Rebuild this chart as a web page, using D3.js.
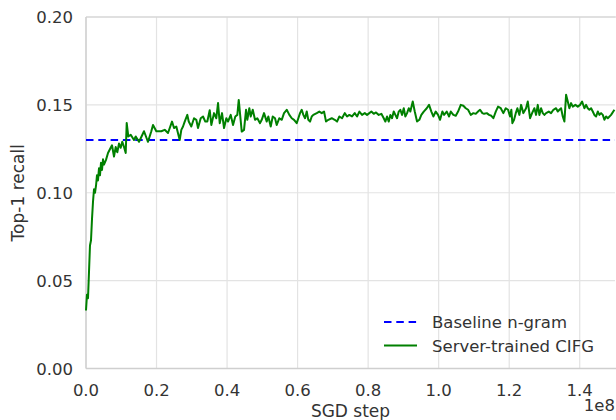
<!DOCTYPE html>
<html><head><meta charset="utf-8">
<script src="https://cdn.jsdelivr.net/npm/d3@7"></script>
<style>
body{margin:0;background:#fff}
svg{display:block}
text{font-family:"DejaVu Sans",sans-serif;fill:#333}
</style>
</head><body>
<svg id="chart" width="616" height="420"></svg>
<script>
// SGD step (in millions)
const stepsM = [0,0.28,0.57,0.85,1.13,1.42,1.70,1.99,2.27,2.55,2.84,3.12,3.40,3.69,3.97,4.25,4.54,4.82,5.10,5.67,6.24,7.00,7.37,7.94,8.42,8.88,9.36,9.84,10.29,10.78,11.26,11.54,12.00,12.68,13.61,14.10,15.03,15.52,16.45,17.38,17.58,18.52,19.00,19.94,21.35,22.32,23.25,24.39,24.96,25.61,26.57,27.03,27.51,27.99,28.73,29.13,29.86,30.63,31.28,31.76,32.53,33.18,33.83,34.40,35.08,35.54,36.30,36.95,37.44,37.92,38.57,39.14,39.79,40.27,41.04,41.69,42.34,42.91,43.31,44.16,44.81,45.38,45.75,46.31,46.71,47.28,47.93,48.58,49.35,49.83,50.48,51.25,51.70,52.38,52.95,53.60,54.08,54.82,55.50,56.15,56.92,57.66,58.34,58.99,59.75,60.21,60.69,61.17,61.63,62.11,62.59,63.04,63.53,64.01,64.46,65.43,66.16,66.85,67.50,68.06,68.72,69.68,70.53,71.18,71.84,72.60,73.37,74.02,74.67,75.44,76.20,76.86,77.51,78.27,79.04,79.69,80.34,80.91,81.59,82.24,83.01,83.75,84.43,84.88,85.36,85.85,86.30,86.78,87.26,87.72,88.20,88.68,89.13,89.62,90.10,90.55,91.04,91.52,91.97,92.65,93.22,93.87,94.52,95.09,95.77,96.62,97.27,97.93,98.49,99.17,99.83,100.39,101.05,101.53,102.29,102.95,103.43,104.17,104.85,105.50,106.27,107.00,107.68,108.34,109.10,109.84,110.52,111.17,111.74,112.39,112.87,113.64,114.29,114.94,115.51,116.19,116.84,117.61,118.34,119.02,119.68,120.24,120.61,120.90,121.38,121.86,122.32,122.89,123.37,124.02,124.78,125.27,125.92,126.49,127.14,127.62,128.10,128.56,129.04,129.52,129.98,130.46,131.22,131.87,132.53,133.29,133.77,134.23,134.71,135.19,135.65,136.13,136.61,137.06,137.55,138.03,138.77,139.45,140.10,140.67,141.32,141.80,142.28,142.74,143.22,143.70,144.15,144.64,145.12,145.58,146.05,146.54,146.99,147.47,147.96,148.89,149.83];
// Top-1 recall of the server-trained CIFG
const recall = [0.033,0.042,0.040,0.055,0.070,0.073,0.085,0.095,0.102,0.100,0.104,0.110,0.107,0.114,0.110,0.117,0.113,0.119,0.116,0.1187,0.1226,0.1256,0.127,0.1206,0.126,0.123,0.128,0.1256,0.129,0.126,0.1226,0.1397,0.132,0.133,0.130,0.132,0.129,0.131,0.135,0.130,0.129,0.135,0.1386,0.135,0.135,0.1358,0.134,0.1405,0.1368,0.1377,0.130,0.1358,0.1377,0.1405,0.1443,0.1405,0.1377,0.1424,0.1415,0.1368,0.1424,0.1434,0.1405,0.1405,0.147,0.1386,0.1453,0.1424,0.151,0.1396,0.1453,0.1368,0.1424,0.1405,0.1443,0.1386,0.1434,0.1443,0.1528,0.1348,0.1358,0.1472,0.1415,0.1481,0.1434,0.1472,0.1415,0.1424,0.1396,0.1415,0.1453,0.1405,0.1434,0.1377,0.1434,0.1424,0.1386,0.1424,0.1415,0.1453,0.1472,0.1443,0.1424,0.1415,0.1396,0.1424,0.1453,0.1472,0.1443,0.1424,0.1462,0.1415,0.1405,0.1434,0.1443,0.1453,0.1462,0.1453,0.1462,0.1405,0.1415,0.1424,0.1415,0.1405,0.1434,0.1424,0.1453,0.1434,0.1443,0.1434,0.1453,0.1434,0.1462,0.1443,0.1453,0.1443,0.1453,0.1462,0.1449,0.1457,0.1443,0.1449,0.1424,0.1405,0.1434,0.1405,0.1443,0.1424,0.1462,0.1443,0.1424,0.1462,0.1472,0.1443,0.1481,0.1434,0.1453,0.1481,0.1462,0.1519,0.1462,0.1405,0.1415,0.1443,0.1462,0.1481,0.1500,0.1462,0.1434,0.1462,0.1443,0.1415,0.1462,0.1443,0.1462,0.1434,0.1462,0.1443,0.1438,0.1462,0.1500,0.1495,0.1481,0.1472,0.1443,0.1453,0.1449,0.1462,0.1472,0.1453,0.1449,0.1453,0.1443,0.1438,0.1424,0.1462,0.1490,0.1481,0.1453,0.1481,0.1472,0.1434,0.1472,0.1396,0.1415,0.1453,0.1481,0.1443,0.1500,0.1453,0.1481,0.1519,0.1424,0.1453,0.1481,0.1443,0.1500,0.1443,0.1481,0.1453,0.1443,0.1453,0.1462,0.1453,0.1472,0.1481,0.1462,0.1472,0.1481,0.1434,0.1405,0.1557,0.1519,0.1481,0.1510,0.1490,0.1500,0.1490,0.1500,0.1519,0.1481,0.1500,0.1481,0.1472,0.1481,0.1462,0.1443,0.1434,0.1462,0.1443,0.1453,0.1443,0.1415,0.1434,0.1424,0.1443,0.1472];
const baselineRecall = 0.13;
const xTicks = [0, 0.2, 0.4, 0.6, 0.8, 1.0, 1.2, 1.4]; // x 1e8
const xTickLabels = ["0.0","0.2","0.4","0.6","0.8","1.0","1.2","1.4"];
const yTicks = [0, 0.05, 0.10, 0.15, 0.20];
const yTickLabels = ["0.00","0.05","0.10","0.15","0.20"];
const seriesNames = ["Baseline n-gram", "Server-trained CIFG"];
const seriesColors = ["#0000ff", "#008000"];

const svg = d3.select("#chart");
const W = 616, H = 420;
const m = {left: 86, top: 17, right: 1, bottom: 51};
const x = d3.scaleLinear().domain([0, 1.5e8]).range([m.left, W - m.right]);
const y = d3.scaleLinear().domain([0, 0.2]).range([H - m.bottom - 0.5, m.top]);

// grid
const grid = svg.append("g");
grid.selectAll("line.v").data(xTicks).join("line")
  .attr("x1", d => x(d * 1e8)).attr("x2", d => x(d * 1e8))
  .attr("y1", y(0)).attr("y2", y(0.2))
  .attr("stroke", "#e3e3e3").attr("stroke-width", 1.2);
grid.selectAll("line.h").data(yTicks).join("line")
  .attr("x1", x(0)).attr("x2", x(1.5e8))
  .attr("y1", d => y(d)).attr("y2", d => y(d))
  .attr("stroke", "#e3e3e3").attr("stroke-width", 1.2);

// spines
svg.append("line").attr("x1", x(0)).attr("x2", x(0)).attr("y1", y(0)).attr("y2", y(0.2))
  .attr("stroke", "#cfcfcf").attr("stroke-width", 1.4);
svg.append("line").attr("x1", x(0)).attr("x2", W).attr("y1", y(0)).attr("y2", y(0))
  .attr("stroke", "#cfcfcf").attr("stroke-width", 1.4);
svg.append("line").attr("x1", x(0)).attr("x2", W).attr("y1", y(0.2)).attr("y2", y(0.2))
  .attr("stroke", "#cfcfcf").attr("stroke-width", 1.2);

// tick labels
svg.append("g").selectAll("text").data(yTicks).join("text")
  .attr("x", 73).attr("y", d => y(d) + 6)
  .attr("text-anchor", "end").attr("font-size", 16.5)
  .text((d, i) => yTickLabels[i]);
svg.append("g").selectAll("text").data(xTicks).join("text")
  .attr("x", d => x(d * 1e8)).attr("y", 396)
  .attr("text-anchor", "middle").attr("font-size", 16.5)
  .text((d, i) => xTickLabels[i]);
svg.append("text").attr("x", 615).attr("y", 411).attr("text-anchor", "end")
  .attr("font-size", 16.5).text("1e8");

// axis labels
svg.append("text").attr("x", (x(0) + x(1.5e8)) / 2).attr("y", 416.5)
  .attr("text-anchor", "middle").attr("font-size", 17).text("SGD step");
svg.append("text").attr("transform", `translate(24,${(y(0) + y(0.2)) / 2}) rotate(-90)`)
  .attr("text-anchor", "middle").attr("font-size", 17).text("Top-1 recall");

// baseline
svg.append("line").attr("x1", x(0)).attr("x2", x(1.5e8))
  .attr("y1", y(baselineRecall)).attr("y2", y(baselineRecall))
  .attr("stroke", seriesColors[0]).attr("stroke-width", 2)
  .attr("stroke-dasharray", "7.5,4.8");

// CIFG line
const data = stepsM.map((s, i) => ({s: s * 1e6, v: recall[i]}));
svg.append("path").datum(data)
  .attr("fill", "none").attr("stroke", seriesColors[1]).attr("stroke-width", 2)
  .attr("stroke-linejoin", "round")
  .attr("d", d3.line().x(d => x(d.s)).y(d => y(d.v)));

// legend
const lg = svg.append("g");
const legendY = [322, 345.5];
seriesNames.forEach((name, i) => {
  const ln = lg.append("line").attr("x1", 384).attr("x2", 417)
    .attr("y1", legendY[i]).attr("y2", legendY[i])
    .attr("stroke", seriesColors[i]).attr("stroke-width", 2);
  if (i === 0) ln.attr("stroke-dasharray", "7.5,4.8");
  lg.append("text").attr("x", 432).attr("y", legendY[i] + 6)
    .attr("font-size", 16.5).text(name);
});
</script>
</body></html>
